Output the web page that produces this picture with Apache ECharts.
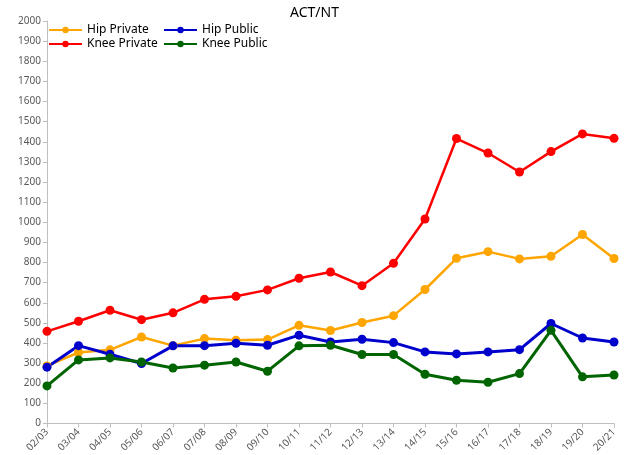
<!DOCTYPE html>
<html>
<head>
<meta charset="utf-8">
<script src="https://cdn.jsdelivr.net/npm/echarts@6/dist/echarts.min.js"></script>
<style>
  html, body { margin: 0; padding: 0; background: #fff; }
  #chart { width: 629px; height: 455px; }
</style>
</head>
<body>
<div id="chart"></div>
<script>
// seasons on the x axis
const seasons = ['02/03', '03/04', '04/05', '05/06', '06/07', '07/08', '08/09', '09/10', '10/11',
  '11/12', '12/13', '13/14', '14/15', '15/16', '16/17', '17/18', '18/19', '19/20', '20/21']

// values
const hipPrivate = [286, 353, 366, 430, 387, 422, 414, 417, 488, 462, 502, 536, 666, 821, 854, 818, 831, 939, 820]
const kneePrivate = [458, 508, 563, 516, 550, 617, 632, 664, 722, 753, 685, 796, 1016, 1416, 1344, 1250, 1351, 1439, 1417]
const hipPublic = [280, 387, 344, 298, 386, 387, 399, 389, 439, 405, 419, 402, 356, 346, 356, 367, 497, 425, 405]
const kneePublic = [187, 316, 326, 306, 276, 290, 306, 260, 386, 389, 343, 343, 245, 215, 205, 248, 463, 232, 241]

const seriesDefs = [
  { name: 'Hip Private', data: hipPrivate, color: '#FFA500', width: 2.5 },
  { name: 'Knee Private', data: kneePrivate, color: '#FF0000', width: 2.5 },
  { name: 'Hip Public', data: hipPublic, color: '#0000CD', width: 3 },
  { name: 'Knee Public', data: kneePublic, color: '#006400', width: 3 }
]

const font = 'Noto Sans, sans-serif'
const chart = echarts.init(document.getElementById('chart'))

const option = {
  animation: false,
  textStyle: { fontFamily: font },
  title: {
    text: 'ACT/NT',
    left: 'center',
    top: 1,
    textStyle: { fontSize: 14, fontWeight: 'normal', color: '#000', fontFamily: font }
  },
  legend: {
    left: 48,
    top: 23,
    width: 250,
    itemWidth: 33,
    itemHeight: 8,
    itemGap: 0,
    padding: 0,
    data: ['Hip Private', 'Hip Public', 'Knee Private', 'Knee Public'],
    textStyle: { fontSize: 12, color: '#000', fontFamily: font, width: 76, lineHeight: 14 }
  },
  grid: {
    left: 47,
    right: 15,
    top: 21,
    bottom: 31
  },
  xAxis: {
    type: 'category',
    boundaryGap: false,
    data: seasons,
    axisLine: { lineStyle: { color: '#bfbfbf', width: 1 } },
    axisTick: { show: true, length: 4, lineStyle: { color: '#bfbfbf' } },
    axisLabel: { rotate: 45, fontSize: 10, color: '#595959', margin: 7, interval: 0 },
    splitLine: { show: false }
  },
  yAxis: {
    type: 'value',
    min: 0,
    max: 2000,
    interval: 100,
    axisLine: { show: true, lineStyle: { color: '#bfbfbf', width: 1 } },
    axisTick: { show: true, length: 4, lineStyle: { color: '#bfbfbf' } },
    axisLabel: { fontSize: 10, color: '#595959', margin: 6, formatter: v => String(v) },
    splitLine: { show: false }
  },
  series: seriesDefs.map(s => ({
    name: s.name,
    type: 'line',
    data: s.data,
    symbol: 'circle',
    symbolSize: 9,
    itemStyle: { color: s.color },
    lineStyle: { color: s.color, width: s.width }
  }))
}

chart.setOption(option)
</script>
</body>
</html>
